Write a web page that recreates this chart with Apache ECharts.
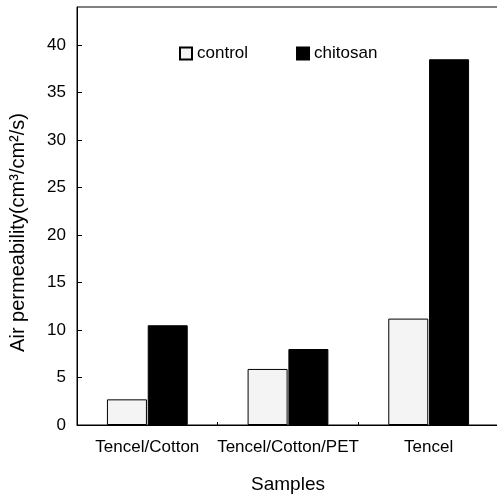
<!DOCTYPE html>
<html>
<head>
<meta charset="utf-8">
<script src="https://cdn.jsdelivr.net/npm/echarts@6/dist/echarts.min.js"></script>
<style>html,body{margin:0;padding:0;background:#fff;}#c{width:497px;height:494px;}</style>
</head>
<body>
<div id="c"></div>
<script>
const categories = ['Tencel/Cotton', 'Tencel/Cotton/PET', 'Tencel'];
const controlValues = [2.7, 5.9, 11.2];
const chitosanValues = [10.5, 8.0, 38.5];
const seriesNames = ['control', 'chitosan'];
const yTicks = [0, 5, 10, 15, 20, 25, 30, 35, 40];

const FONT = 'Liberation Sans, Arial, sans-serif';
const chart = echarts.init(document.getElementById('c'));
chart.setOption({
  animation: false,
  backgroundColor: '#fff',
  textStyle: { fontFamily: FONT },
  grid: { left: 77, right: -2, top: 7, bottom: 69, outerBoundsMode: 'none', containLabel: false,
          show: true, borderColor: '#000', borderWidth: 1, backgroundColor: 'transparent' },
  legend: {
    data: seriesNames,
    left: 174, top: 40,
    itemWidth: 12, itemHeight: 12, itemGap: 48,
    icon: 'rect',
    textStyle: { fontSize: 17, color: '#000', fontFamily: FONT }
  },
  xAxis: {
    type: 'category',
    data: categories,
    name: 'Samples',
    nameLocation: 'middle',
    nameGap: 50,
    nameTextStyle: { fontSize: 19, color: '#000', fontFamily: FONT },
    axisLine: { lineStyle: { color: '#000', width: 1 } },
    axisTick: { show: true, inside: true, length: 3, lineStyle: { color: '#000' } },
    axisLabel: { fontSize: 17, color: '#000', margin: 14, interval: 0, fontFamily: FONT }
  },
  yAxis: {
    type: 'value',
    min: 0, max: 44, interval: 5,
    axisLine: { show: true, lineStyle: { color: '#000', width: 1 } },
    axisTick: { show: true, inside: true, length: 5, lineStyle: { color: '#000' } },
    splitLine: { show: false },
    axisLabel: {
      fontSize: 17, color: '#000', margin: 11, fontFamily: FONT,
      showMaxLabel: false,
      formatter: v => (yTicks.indexOf(v) >= 0 ? String(v) : '')
    }
  },
  graphic: [{
    type: 'text',
    left: 8, top: 113,
    rotation: Math.PI / 2,
    style: { text: 'Air permeability(cm³/cm²/s)', font: '20px ' + FONT, fill: '#000' }
  }],
  series: [
    {
      name: seriesNames[0], type: 'bar', data: controlValues,
      barWidth: 40, barGap: '2%',
      itemStyle: { color: '#f4f4f4', borderColor: '#000', borderWidth: 1 }
    },
    {
      name: seriesNames[1], type: 'bar', data: chitosanValues,
      barWidth: 40,
      itemStyle: { color: '#000', borderColor: '#000', borderWidth: 1 }
    }
  ]
});
</script>
</body>
</html>
